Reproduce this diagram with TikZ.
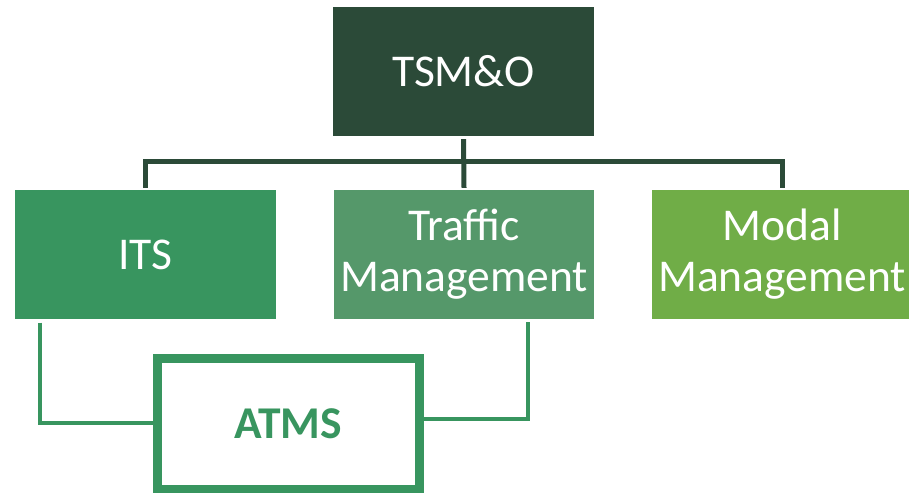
\documentclass[tikz,border=0pt]{standalone}
\usepackage{fontspec}
\setmainfont{Carlito}
\definecolor{cdark}{HTML}{2B4A38}
\definecolor{cits}{HTML}{38955F}
\definecolor{ctraf}{HTML}{55986A}
\definecolor{cmodal}{HTML}{70AD47}
\tikzset{
  box/.style={rectangle, draw=none, minimum width=260.5pt, minimum height=129pt, inner sep=0pt,
    text=white, align=center, font=\fontsize{45.5}{51}\selectfont},
  topline/.style={draw=cdark, line width=5pt},
  lowline/.style={draw=cits, line width=4pt},
}
\begin{document}
\begin{tikzpicture}[x=1pt,y=-1pt]
\useasboundingbox (0,0) rectangle (909,492);
\clip (0,0) rectangle (909,492);
\node[box, fill=cdark] (tsmo) at (463.5,71.5) {TSM\&O};
\node[box, fill=cits] (its) at (145.25,254.5) {ITS};
\node[box, fill=ctraf] (traffic) at (464,254.5) {Traffic\\Management};
\node[box, fill=cmodal] (modal) at (782,254.5) {Modal\\Management};
\node[rectangle, draw=cits, line width=9pt, fill=white, minimum width=262.5pt, minimum height=131.5pt,
  inner sep=0pt, text=cits, font=\fontsize{45.5}{51}\selectfont\bfseries] (atms) at (288.25,423.75) {ATMS};
% top connectors
\draw[topline] ([yshift=-3pt]tsmo.south) -- ([yshift=2pt]traffic.north);
\draw[topline] ([yshift=2pt]its.north) -- ++(0,-26.3) -| ([yshift=2pt]modal.north);
% lower connectors
\draw[lowline] ([shift={(25.4,3.5)}]its.south west) |- ([yshift=0.75pt]atms.west);
\draw[lowline] ([shift={(-66.6,3)}]traffic.south east) |- ([yshift=4.5pt]atms.east);
\end{tikzpicture}
\end{document}
